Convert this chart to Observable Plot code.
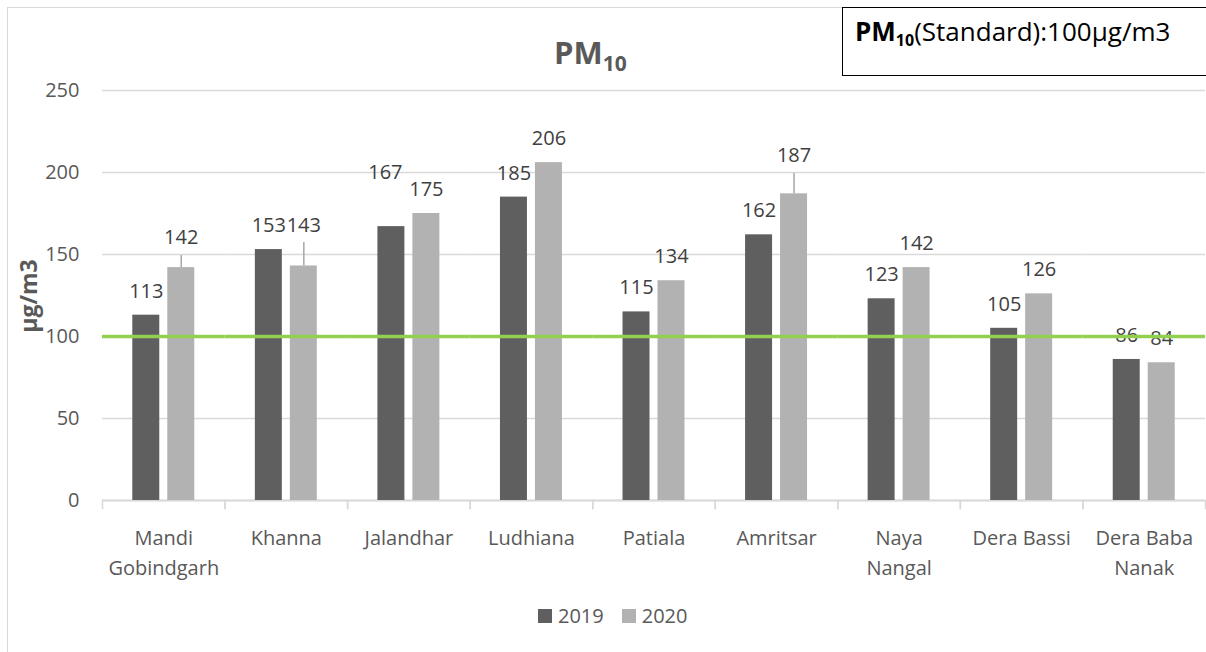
<!DOCTYPE html>
<html>
<head>
<meta charset="utf-8">
<script src="https://cdn.jsdelivr.net/npm/d3@7"></script>
<script src="https://cdn.jsdelivr.net/npm/@observablehq/plot@0.6"></script>
<style>
  html, body { margin: 0; padding: 0; background: #fff; overflow: hidden; }
  #wrap { position: relative; width: 1206px; height: 652px; overflow: hidden; font-family: "Open Sans", sans-serif; }
  #outer { position: absolute; left: 7px; top: 7px; width: 1400px; height: 900px; border: 1px solid #d9d9d9; box-sizing: border-box; }
  #chart { position: absolute; left: 0; top: 0; }
  #title { position: absolute; left: 554px; top: 37px; font-size: 31px; font-weight: bold; color: #595959; line-height: 1; white-space: nowrap; }
  #title sub { font-size: 21px; vertical-align: -7px; line-height: 0; }
  #stdbox { position: absolute; left: 842px; top: 7px; width: 400px; height: 69px; border: 1.5px solid #000; box-sizing: border-box; background: #fff; font-size: 26px; color: #000; padding: 10px 0 0 12px; line-height: 1; white-space: nowrap; }
  #stdbox b sub { font-size: 16px; vertical-align: -5px; line-height: 0; }
  #ylabel { position: absolute; left: 28px; top: 296px; transform: translate(-50%, -50%) rotate(-90deg); font-size: 23px; font-weight: bold; color: #595959; white-space: nowrap; }
  #legend { position: absolute; top: 606px; left: 538px; display: flex; align-items: center; font-size: 20px; color: #595959; line-height: 1; }
  #legend .sw { width: 14px; height: 14px; display: inline-block; margin-right: 6px; }
  #legend .item { display: flex; align-items: center; margin-right: 18px; }
</style>
</head>
<body>
<div id="wrap">
  <div id="outer"></div>
  <div id="chart"></div>
  <div id="title">PM<sub>10</sub></div>
  <div id="stdbox"><b>PM<sub>10</sub></b>(Standard):100µg/m3</div>
  <div id="ylabel">µg/m3</div>
  <div id="legend"></div>
</div>
<script>
// ---- data ----
const cities = ["Mandi Gobindgarh", "Khanna", "Jalandhar", "Ludhiana", "Patiala", "Amritsar", "Naya Nangal", "Dera Bassi", "Dera Baba Nanak"];
const cityLabels = ["Mandi\nGobindgarh", "Khanna", "Jalandhar", "Ludhiana", "Patiala", "Amritsar", "Naya\nNangal", "Dera Bassi", "Dera Baba\nNanak"];
const years = ["2019", "2020"];
const pm2019 = [113, 153, 167, 185, 115, 162, 123, 105, 86];
const pm2020 = [142, 143, 175, 206, 134, 187, 142, 126, 84];
const yTicks = [0, 50, 100, 150, 200, 250];
const standard = 100;
const yearColors = ["#5f5f5f", "#b2b2b2"];

// labels moved by hand in the original (pixel nudges) and their leader lines (top in data units)
const labelNudges = [
  {city: "Mandi Gobindgarh", year: "2020", dx: 0, dy: -30},
  {city: "Khanna", year: "2020", dx: 0, dy: -40},
  {city: "Jalandhar", year: "2019", dx: -6, dy: -54},
  {city: "Amritsar", year: "2020", dx: 0, dy: -38}
];
const leaderTops = [
  {city: "Mandi Gobindgarh", year: "2020", top: 149.4},
  {city: "Khanna", year: "2020", top: 157.3},
  {city: "Amritsar", year: "2020", top: 199.4}
];

// ---- table ----
const table = [];
cities.forEach((c, i) => {
  table.push({city: c, year: "2019", value: pm2019[i]});
  table.push({city: c, year: "2020", value: pm2020[i]});
});
const valueOf = (c, y) => table.find(d => d.city === c && d.year === y).value;
const key = d => d.city + "|" + d.year;
const nudgeKeys = new Set(labelNudges.map(key));

const labelFont = {fontSize: 20, fill: "#404040"};

const marks = [
  Plot.gridY(yTicks, {stroke: "#d9d9d9", strokeOpacity: 1, strokeWidth: 1.5}),
  Plot.ruleY([0], {stroke: "#d9d9d9", strokeWidth: 2}),
  Plot.frame({anchor: "left", insetTop: 410, insetBottom: -8, stroke: "#d9d9d9", strokeWidth: 1.5}),
  Plot.frame({anchor: "right", insetTop: 410, insetBottom: -8, stroke: "#d9d9d9", strokeWidth: 1.5}),
  Plot.axisY(yTicks, {tickSize: 0, tickPadding: 23, fill: "#595959", fontSize: 20, label: null}),
  Plot.barY(table, {fx: "city", x: "year", y: "value", fill: "year"}),
  Plot.ruleX(leaderTops, {fx: "city", x: "year", y1: d => valueOf(d.city, d.year), y2: "top", stroke: "#a6a6a6", strokeWidth: 1.5}),
  Plot.text(table.filter(d => !nudgeKeys.has(key(d))), {fx: "city", x: "year", y: "value", text: d => String(d.value), dy: -24, ...labelFont}),
  ...labelNudges.map(n => Plot.text(table.filter(d => key(d) === key(n)), {fx: "city", x: "year", y: "value", text: d => String(d.value), dx: n.dx, dy: n.dy, ...labelFont})),
  Plot.text(cities, {fx: d => d, text: (d, i) => cityLabels[i], frameAnchor: "bottom", lineAnchor: "top", dy: 23, lineHeight: 1.5, fontSize: 20, fill: "#595959"}),
  Plot.ruleY([standard], {stroke: "#92d050", strokeWidth: 3.5})
];

const chart = Plot.plot({
  width: 1206,
  height: 652,
  marginTop: 90,
  marginBottom: 152,
  marginLeft: 102,
  marginRight: 1,
  style: {fontFamily: "Open Sans", background: "transparent", overflow: "visible"},
  fx: {domain: cities, padding: 0, axis: null, round: false},
  x: {domain: years, paddingInner: 8 / 35, paddingOuter: 0.866, axis: null, round: false},
  y: {domain: [0, 250], axis: null},
  color: {domain: years, range: yearColors},
  marks
});
document.getElementById("chart").appendChild(chart);

// legend
const legend = document.getElementById("legend");
years.forEach((y, i) => {
  const item = document.createElement("span");
  item.className = "item";
  item.innerHTML = `<span class="sw" style="background:${yearColors[i]}"></span>${y}`;
  legend.appendChild(item);
});
</script>
</body>
</html>
